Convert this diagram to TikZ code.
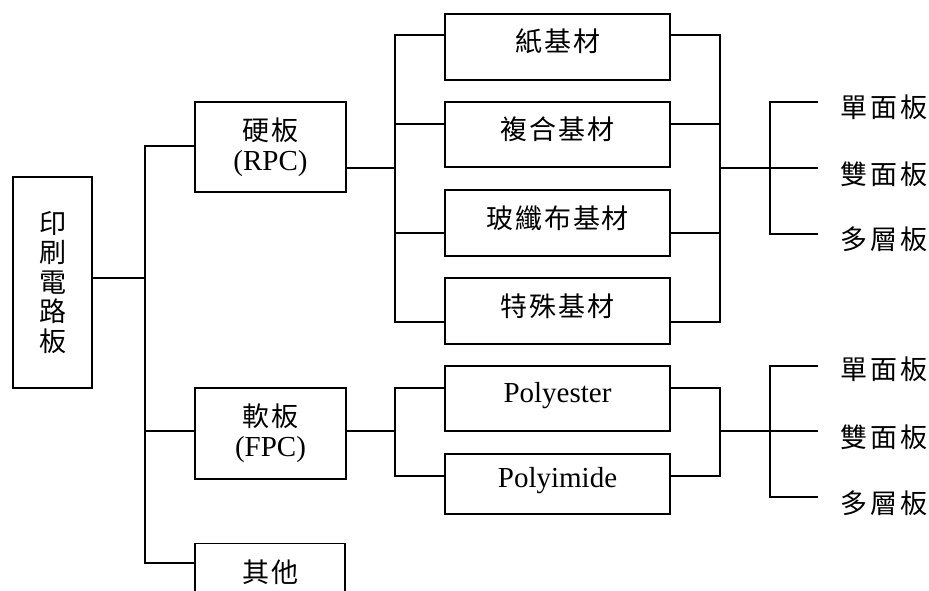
\documentclass[tikz,border=0pt]{standalone}
\usepackage{fontspec}
\setmainfont{Liberation Serif}
\newfontfamily\cjkfont{Noto Sans CJK TC}
\newcommand\zh[1]{{\cjkfont\fontsize{27}{30}\selectfont #1}}
\newcommand\zs{\hspace{2pt}}
\newcommand\zl{\hspace{3pt}}
\begin{document}
\begin{tikzpicture}[x=1pt,y=-1pt,line width=1.4pt,
  box/.style={draw,rectangle,inner sep=0pt,align=center,font=\fontsize{29}{30}\selectfont},
  cjkone/.style={text height=20pt,text depth=10pt},
  latone/.style={text height=20pt,text depth=13pt},
  lab/.style={anchor=base west,inner sep=0pt}]
\useasboundingbox (0,0) rectangle (929,591);

% boxes
\node[box,minimum width=79pt,minimum height=211pt,
      font=\cjkfont\fontsize{27}{29.5}\selectfont] (root) at (52.5,282.5) {印\\刷\\電\\路\\板};
\node[box,minimum width=151pt,minimum height=90pt] (hard) at (270.5,147) {\zh{硬\zs 板}\\(RPC)};
\node[box,minimum width=151pt,minimum height=91pt] (soft) at (270.5,433.5) {\zh{軟\zs 板}\\(FPC)};
\node[box,text height=8pt,text depth=20pt,minimum width=150pt,minimum height=90pt,anchor=north] (other) at (270,543) {\zh{其\zs 他}};

\node[box,cjkone,minimum width=225pt,minimum height=66pt] (paper) at (557.5,47) {\zh{紙\zs 基\zs 材}};
\node[box,cjkone,minimum width=225pt,minimum height=65pt] (comp) at (557.5,134.5) {\zh{複\zs 合\zs 基\zs 材}};
\node[box,cjkone,minimum width=225pt,minimum height=66pt] (glass) at (557.5,223) {\zh{玻\zs 纖\zs 布\zs 基\zs 材}};
\node[box,cjkone,minimum width=225pt,minimum height=66pt] (spec) at (557.5,311) {\zh{特\zs 殊\zs 基\zs 材}};
\node[box,latone,minimum width=225pt,minimum height=65pt] (pes) at (557.5,398.5) {Polyester};
\node[box,latone,minimum width=225pt,minimum height=60pt] (pi) at (557.5,484) {Polyimide};

% labels
\node[lab] (la1) at (840,118) {\zh{單\zl 面\zl 板}};
\node[lab] (la2) at (840,184) {\zh{雙\zl 面\zl 板}};
\node[lab] (la3) at (840,249) {\zh{多\zl 層\zl 板}};
\node[lab] (lb1) at (840,379) {\zh{單\zl 面\zl 板}};
\node[lab] (lb2) at (840,447) {\zh{雙\zl 面\zl 板}};
\node[lab] (lb3) at (840,513) {\zh{多\zl 層\zl 板}};

% trunk
\coordinate (tm) at (145,278);
\coordinate (t1) at (145,146);
\coordinate (t2) at (145,431);
\coordinate (t3) at (145,563);
\draw (root.east |- tm) -- (tm);
\draw (hard.west |- t1) -- (t1) -- (t3) -- (other.west |- t3);
\draw (t2) -- (soft.west |- t2);

% rigid branch
\coordinate (h0) at (395,168);
\coordinate (h1) at (395,35);
\coordinate (h2) at (395,124);
\coordinate (h3) at (395,233);
\coordinate (h4) at (395,322);
\draw (hard.east |- h0) -- (h0);
\draw (paper.west |- h1) -- (h1) -- (h4) -- (spec.west |- h4);
\draw (h2) -- (comp.west |- h2);
\draw (h3) -- (glass.west |- h3);
\coordinate (r0) at (720,168);
\coordinate (r1) at (720,35);
\coordinate (r2) at (720,124);
\coordinate (r3) at (720,233);
\coordinate (r4) at (720,322);
\draw (paper.east |- r1) -- (r1) -- (r4) -- (spec.east |- r4);
\draw (comp.east |- r2) -- (r2);
\draw (glass.east |- r3) -- (r3);
\coordinate (ea0) at (818,168);
\coordinate (sa1) at (770,102);
\coordinate (sa3) at (770,234);
\coordinate (ea1) at (818,102);
\coordinate (ea3) at (818,234);
\draw (r0) -- (ea0);
\draw (ea1) -- (sa1) -- (sa3) -- (ea3);

% flexible branch
\coordinate (f0) at (395,431);
\coordinate (f1) at (395,388);
\coordinate (f2) at (395,476);
\draw (soft.east |- f0) -- (f0);
\draw (pes.west |- f1) -- (f1) -- (f2) -- (pi.west |- f2);
\coordinate (g0) at (720,431);
\coordinate (g1) at (720,388);
\coordinate (g2) at (720,476);
\draw (pes.east |- g1) -- (g1) -- (g2) -- (pi.east |- g2);
\coordinate (eb0) at (818,431);
\coordinate (sb1) at (770,366);
\coordinate (sb3) at (770,497);
\coordinate (eb1) at (818,366);
\coordinate (eb3) at (818,497);
\draw (g0) -- (eb0);
\draw (eb1) -- (sb1) -- (sb3) -- (eb3);
\end{tikzpicture}
\end{document}
